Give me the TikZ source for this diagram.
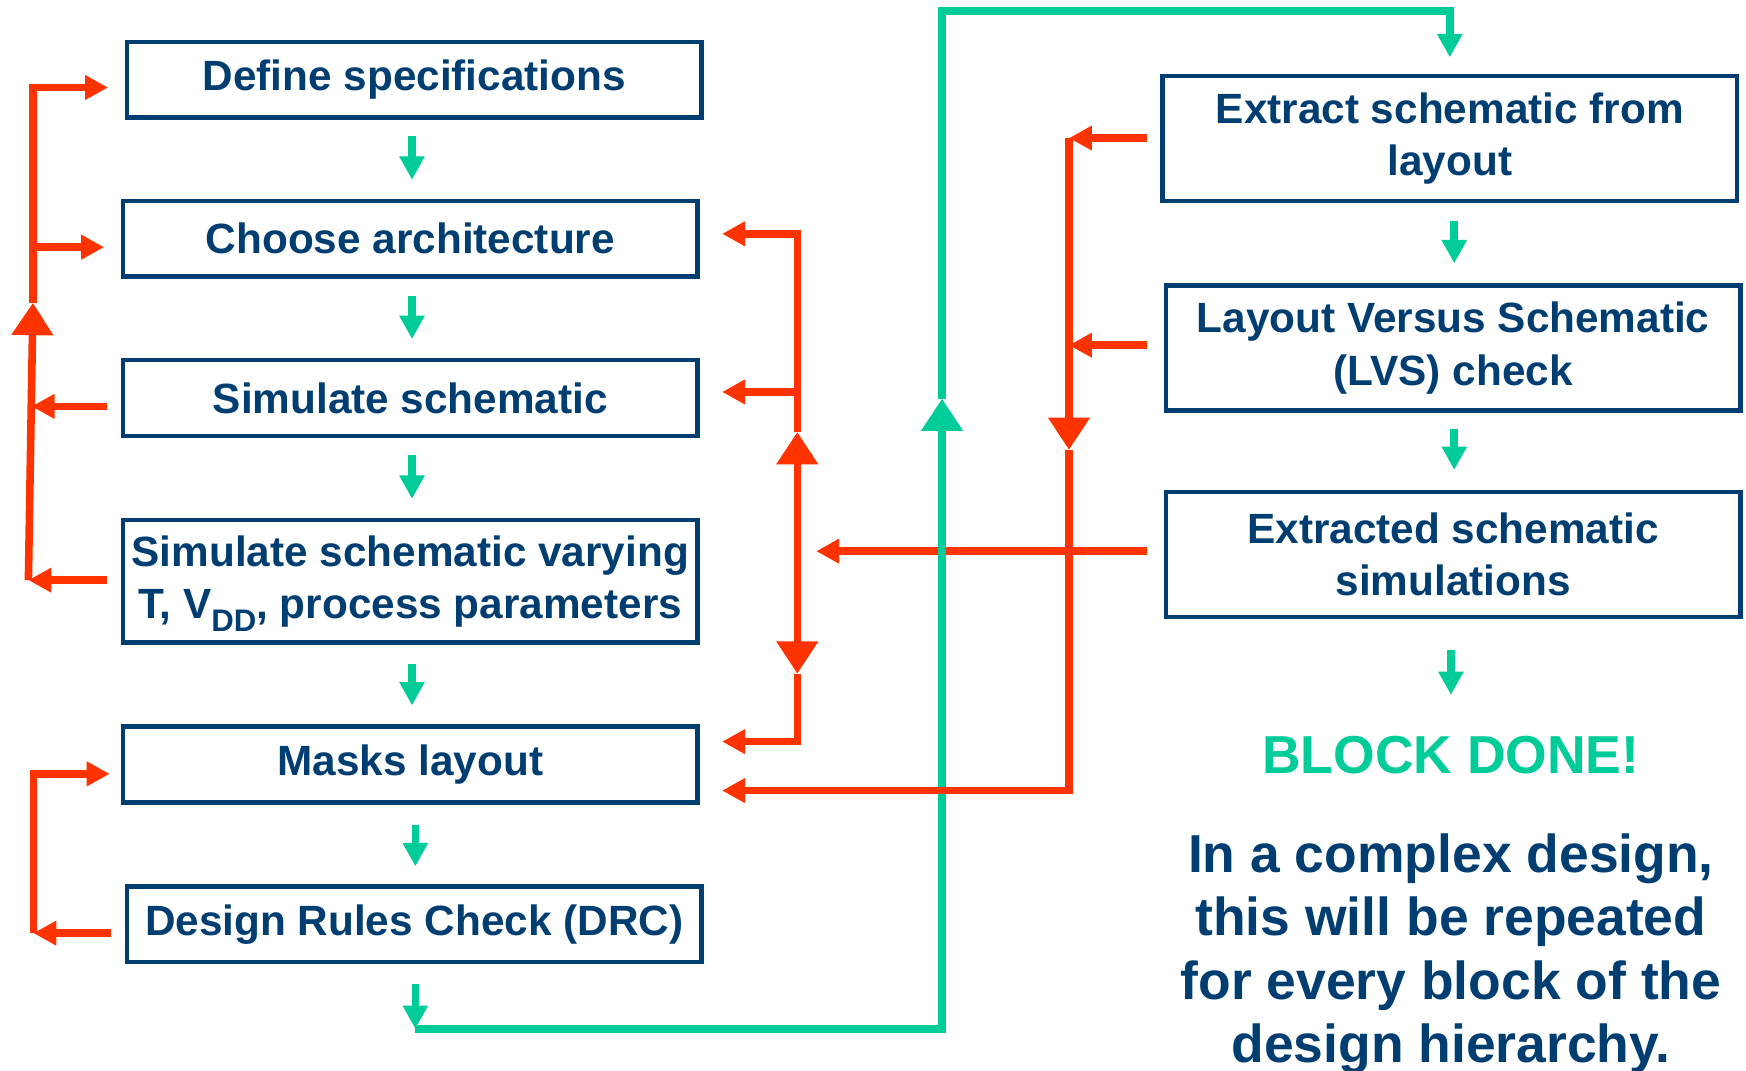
\documentclass[tikz,border=0pt]{standalone}
\usepackage{fontspec}
\setmainfont{Liberation Sans}
\usetikzlibrary{arrows.meta,calc}
\definecolor{navy}{RGB}{0,62,114}
\definecolor{mint}{RGB}{0,204,153}
\definecolor{flame}{RGB}{255,51,0}
\tikzset{
  headS/.tip={Triangle[width=10.75pt,length=10.5pt]},
  headR/.tip={Triangle[width=10.5pt,length=10.3pt]},
  headB/.tip={Triangle[width=18pt,length=14.5pt]},
  stage/.style={draw=navy, line width=2pt, text=navy, inner sep=0pt, align=center,
    minimum width=258pt, font=\fontsize{19}{23.5}\selectfont\bfseries},
  short/.style={stage, minimum height=34pt},
  tall/.style={stage, minimum height=56pt},
  flow/.style={draw=mint, line width=3.4pt, line join=miter},
  back/.style={draw=flame, line width=3.4pt, line join=miter},
}
\begin{document}
\begin{tikzpicture}[x=0.5pt,y=-0.5pt]
\useasboundingbox (0,0) rectangle (1568,961);

% design steps, left column
\node[short] (spec) at (372,71.5) {Define specifications};
\node[short] (arch) at (368.5,214.5) {Choose architecture};
\node[short] (sim) at (368.5,357.5) {Simulate schematic};
\node[stage, minimum height=55pt] (corners) at (368.5,522)
  {Simulate schematic varying\\T, V\raisebox{-6pt}[0pt][0pt]{\fontsize{14}{14}\selectfont DD}, process parameters};
\node[short] (masks) at (368.5,686.5) {Masks layout};
\node[short] (drc) at (372,830) {Design Rules Check (DRC)};

% verification steps, right column
\node[tall] (extract) at (1302,124.5) {Extract schematic from\\layout};
\node[tall] (lvs) at (1305,312.5) {Layout Versus Schematic\\(LVS) check};
\node[tall] (exsim) at (1305,498) {Extracted schematic\\simulations};
\node[text=mint, font=\fontsize{24}{24}\selectfont\bfseries, inner sep=0pt] (done) at (1303,678.5) {BLOCK DONE!};
\node[text=navy, font=\fontsize{24}{28.5}\selectfont\bfseries, align=center, inner sep=0pt, anchor=north] (note) at (1303,748)
  {In a complex design,\\this will be repeated\\for every block of the\\design hierarchy.};

% forward flow, left column
\draw[flow,-{headS}] ($(spec.south)+(-2,15)$) -- ($(spec.south |- arch.north)+(-2,-17)$);
\draw[flow,-{headS}] ($(arch.south)+(1.5,15)$) -- ($(arch.south |- sim.north)+(1.5,-17)$);
\draw[flow,-{headS}] ($(sim.south)+(1.5,15)$) -- ($(sim.south |- corners.north)+(1.5,-17)$);
\draw[flow,-{headS}] ($(corners.south)+(1.5,17)$) -- ($(corners.south |- masks.north)+(1.5,-17)$);
\draw[flow,-{headS}] ($(masks.south)+(4.5,18)$) -- ($(masks.south |- drc.north)+(4.5,-16)$);

% forward flow, right column
\draw[flow,-{headS}] ($(extract.south)+(4,16)$) -- ($(extract.south |- lvs.north)+(4,-18)$);
\draw[flow,-{headS}] ($(lvs.south)+(1,15)$) -- ($(lvs.south |- exsim.north)+(1,-18)$);
\draw[flow,-{headS}] ($(exsim.south)+(-2,28)$) -- ($(exsim.south |- done.north)+(-2,-37)$);

% feedback to specification and architecture
\coordinate (aTop) at (29.6,78.6);
\coordinate (aArch) at (29.6,222);
\coordinate (aTip) at (29.6,272);
\coordinate (aSim) at (28.4,365);
\coordinate (aBot) at (25.5,521);
\draw[back,-{headB}] (aBot) -- (aTip);
\draw[back,-{headR},shorten >=7.5pt] (aTip) -- (aTop) -- (aTop -| spec.west);
\draw[back,-{headR},shorten >=7.5pt] (aArch) -- (aArch -| arch.west);
\draw[back,-{headR},shorten <=6pt] (aSim -| sim.west) -- (aSim);
\draw[back,-{headR},shorten <=6pt] (aBot -| corners.west) -- (aBot);

% feedback between layout and DRC
\coordinate (bTop) at (30,695);
\coordinate (bBot) at (30,838);
\draw[back,-{headR},shorten >=5pt] (bBot) -- (bTop) -- (bTop -| masks.west);
\draw[back,-{headR},shorten <=6pt] (bBot -| drc.west) -- (bBot);

% feedback from extracted simulations
\coordinate (cTop) at (716,210);
\coordinate (cSim) at (716,352);
\coordinate (cUp) at (716,388);
\coordinate (cHub) at (716,495);
\coordinate (cDown) at (716,605);
\coordinate (cBot) at (716,666);
\coordinate (cIn) at (733,495);
\draw[back,-{headB}] (cHub) -- (cUp);
\draw[back,-{headR},shorten >=10pt] (cUp) -- (cTop) -- (cTop -| arch.east);
\draw[back,-{headR},shorten >=10pt] (cSim) -- (cSim -| sim.east);
\draw[back,-{headB}] (cHub) -- (cDown);
\draw[back,-{headR},shorten >=10pt] (cDown) -- (cBot) -- (cBot -| masks.east);
\draw[back,-{headR},shorten <=7.5pt] (cIn -| exsim.west) -- (cIn);

% from DRC to extraction
\coordinate (gLow) at (373,924);
\coordinate (gRise) at (846,924);
\coordinate (gMid) at (846,358);
\coordinate (gTop) at (846,10);
\draw[flow,-{headS}] ($(drc.south)+(1,18)$) -- (gLow);
\draw[flow,-{headB}] (gLow) -- (gRise) -- (gMid);
\draw[flow,-{headS}] (gMid) -- (gTop) -- (gTop -| extract.north) -- ($(extract.north)+(0,-15)$);

% feedback from extraction and LVS to layout
\coordinate (dTop) at (960,124);
\coordinate (dLvs) at (960,310);
\coordinate (dTip) at (960,404);
\coordinate (dBot) at (960,710);
\draw[back,-{headR},shorten <=6pt] (dTop -| extract.west) -- (dTop);
\draw[back,-{headR},shorten <=7.5pt] (dLvs -| lvs.west) -- (dLvs);
\draw[back,-{headB}] (dTop) -- (dTip);
\draw[back,-{headR},shorten >=10pt] (dTip) -- (dBot) -- (dBot -| masks.east);
\end{tikzpicture}
\end{document}
